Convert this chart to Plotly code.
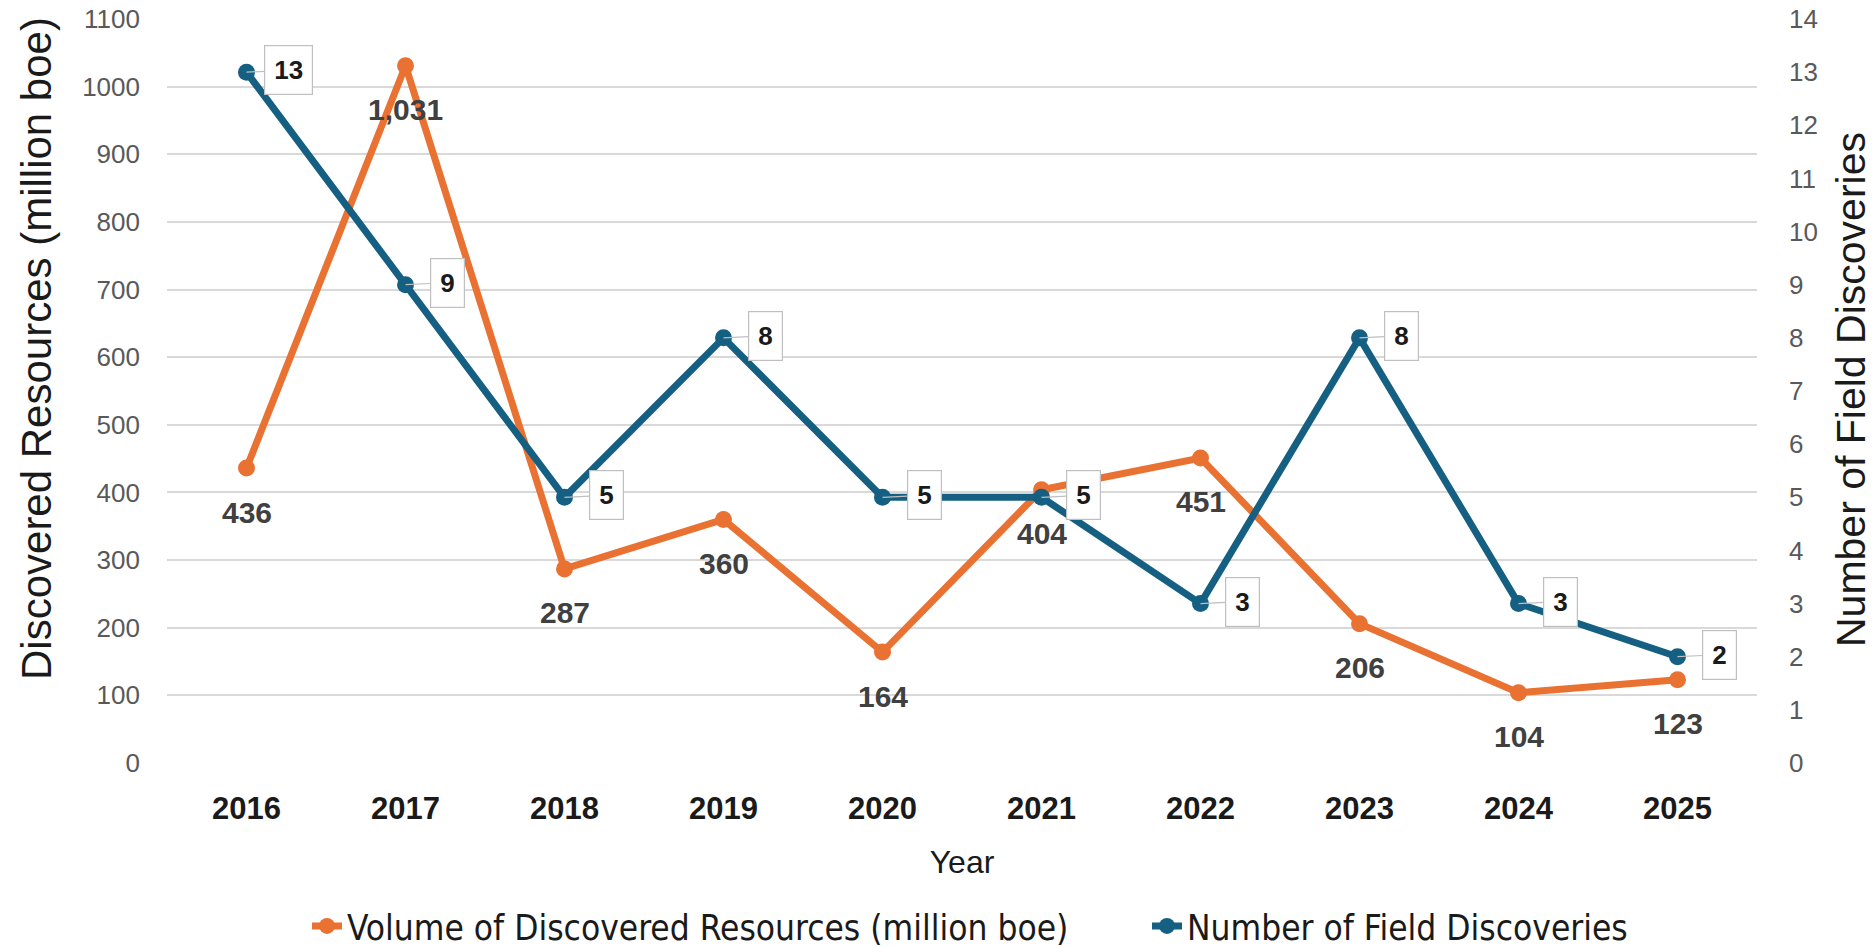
import plotly.graph_objects as go

# Yearly exploration results
years = ["2016", "2017", "2018", "2019", "2020", "2021", "2022", "2023", "2024", "2025"]
volume_mboe = [436, 1031, 287, 360, 164, 404, 451, 206, 104, 123]
field_count = [13, 9, 5, 8, 5, 5, 3, 8, 3, 2]

left_ticks = list(range(0, 1101, 100))
right_ticks = list(range(0, 15))

ORANGE = "#E97132"
BLUE = "#156082"
GRID = "#D9D9D9"
TICK_GREY = "#595959"
LABEL_GREY = "#404040"
BASE_FONT = "Liberation Sans, Arial, sans-serif"
NARROW_FONT = "DejaVu Sans Condensed, Liberation Sans, sans-serif"

fig = go.Figure()

fig.add_trace(go.Scatter(
    x=years, y=volume_mboe, name="Volume of Discovered Resources (million boe)",
    mode="lines+markers", yaxis="y", legend="legend",
    line=dict(color=ORANGE, width=7), marker=dict(color=ORANGE, size=17),
))
fig.add_trace(go.Scatter(
    x=years, y=field_count, name="Number of Field Discoveries",
    mode="lines+markers", yaxis="y2", legend="legend2",
    line=dict(color=BLUE, width=7), marker=dict(color=BLUE, size=17),
))

annotations = []
# Volume labels sit under each orange point (x given as category index)
for i, v in enumerate(volume_mboe):
    annotations.append(dict(
        x=i, y=v, xref="x", yref="y", text=f"<b>{v:,}</b>", showarrow=False,
        yshift=-44, font=dict(family=BASE_FONT, size=30, color=LABEL_GREY),
    ))
# Field counts shown in callout boxes to the right of each blue point
for i, n in enumerate(field_count):
    annotations.append(dict(
        x=i, y=n, xref="x", yref="y2", text=f"<b>{n}</b>", showarrow=True,
        ax=42, ay=-2, arrowhead=0, arrowwidth=1.2, arrowcolor="#BFBFBF", standoff=0,
        bgcolor="white", bordercolor="#BFBFBF", borderwidth=1.2, borderpad=9,
        font=dict(family=BASE_FONT, size=26, color="#1A1A1A"),
    ))
# Value-axis titles
annotations.append(dict(
    text="Discovered Resources (million boe)", textangle=-90, showarrow=False,
    xref="paper", yref="paper", x=(36 - 167) / 1590, y=1 - (349 - 19) / 744,
    xanchor="center", yanchor="middle",
    font=dict(family=BASE_FONT, size=42, color="#1A1A1A"),
))
annotations.append(dict(
    text="Number of Field Discoveries", textangle=-90, showarrow=False,
    xref="paper", yref="paper", x=(1851 - 167) / 1590, y=1 - (390 - 19) / 744,
    xanchor="center", yanchor="middle",
    font=dict(family=BASE_FONT, size=41, color="#1A1A1A"),
))

legend_style = dict(
    orientation="h", xanchor="left", xref="container",
    yref="container", y=0.022, yanchor="middle",
    font=dict(family=NARROW_FONT, size=35, color="#1A1A1A"),
    itemwidth=30,
)

fig.update_layout(
    width=1875, height=947,
    margin=dict(l=167, r=118, t=19, b=184),
    paper_bgcolor="white", plot_bgcolor="white",
    font=dict(family=BASE_FONT, color=TICK_GREY),
    showlegend=True,
    legend=dict(x=307 / 1875, **legend_style),
    legend2=dict(x=1147 / 1875, **legend_style),
    xaxis=dict(
        type="category", range=[-0.5, 9.5], showgrid=False, zeroline=False,
        showline=False, ticks="", automargin=False, ticklabelstandoff=24,
        tickfont=dict(family=BASE_FONT, size=31, color="#1A1A1A", weight="bold"),
        title=dict(text="Year", standoff=25, font=dict(family=BASE_FONT, size=32, color="#1A1A1A")),
    ),
    yaxis=dict(
        range=[0, 1100], tickvals=left_ticks, showgrid=True, gridcolor=GRID, gridwidth=2,
        zeroline=False, showline=False, ticks="", ticklabelstandoff=26, automargin=False,
        tickfont=dict(family=BASE_FONT, size=26, color=TICK_GREY),
    ),
    yaxis2=dict(
        overlaying="y", side="right", range=[0, 14], tickvals=right_ticks,
        showgrid=False, zeroline=False, showline=False, ticks="", ticklabelstandoff=31,
        automargin=False,
        tickfont=dict(family=BASE_FONT, size=26, color=TICK_GREY),
    ),
    annotations=annotations,
)

fig.write_html("out.html")
